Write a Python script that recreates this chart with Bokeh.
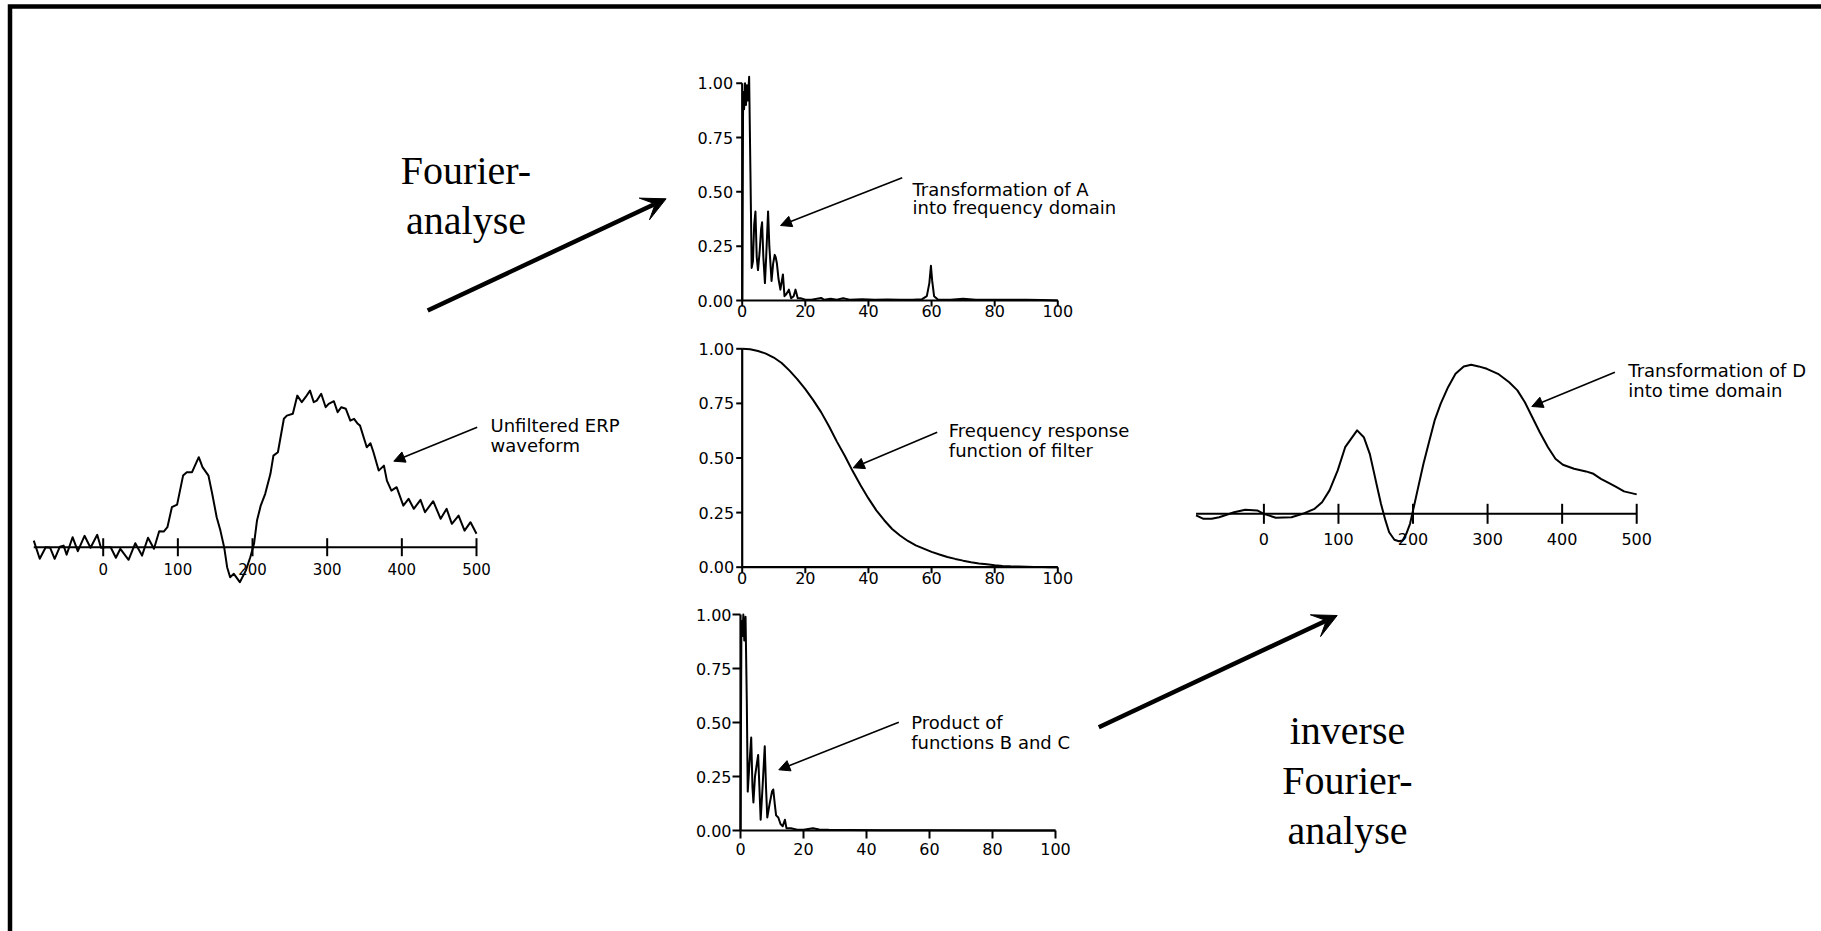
from bokeh.plotting import figure
from bokeh.models import Range1d, Arrow, NormalHead, VeeHead
from bokeh.embed import file_html
from bokeh.resources import INLINE
from bokeh.core.properties import value

W, H = 1821, 931
INK = "black"
SANS = value("DejaVu Sans")
SERIF = value("Liberation Serif")

# ---------------------------------------------------------------- data
# A: unfiltered ERP (ms, microvolts)
erp_ms = [-93, -85, -77, -71, -65, -58, -53, -49, -41, -34,
          -25, -17, -8, -3, 4, 10, 17, 23, 34, 43,
          52, 60, 68, 75, 81, 86, 92, 99, 107, 112,
          119, 128, 133, 141, 146, 152, 157, 162, 166, 170,
          175, 183, 191, 197, 202, 206, 211, 217, 224, 228,
          234, 242, 246, 254, 260, 266, 271, 277, 282, 286,
          292, 298, 302, 309, 314, 319, 325, 331, 336, 341,
          344, 353, 358, 362, 369, 376, 380, 386, 393, 402,
          409, 416, 425, 431, 442, 452, 460, 467, 476, 484,
          492, 500]
erp_uv = [0.33, -0.58, 0.0, -0.03, -0.58, 0.03, 0.08, -0.37, 0.5, -0.2,
          0.57, -0.03, 0.62, -0.03, 0.0, 0.0, -0.53, -0.08, -0.63, 0.2,
          -0.42, 0.47, -0.08, 0.8, 0.78, 1.0, 2.0, 2.13, 3.58, 3.75,
          3.75, 4.5, 4.0, 3.58, 2.67, 1.5, 0.83, 0.0, -1.0, -1.5,
          -1.33, -1.75, -1.17, -0.5, 0.17, 1.33, 2.08, 2.67, 3.67, 4.58,
          4.75, 6.42, 6.58, 6.67, 7.58, 7.25, 7.5, 7.83, 7.25, 7.33,
          7.67, 7.0, 7.17, 7.3, 6.75, 7.0, 6.92, 6.33, 6.42, 6.17,
          6.08, 5.0, 5.2, 4.75, 3.83, 4.08, 3.33, 2.83, 3.0, 2.08,
          2.42, 1.92, 2.37, 1.75, 2.3, 1.42, 1.92, 1.17, 1.58, 0.83,
          1.25, 0.67]

# B: amplitude spectrum of A (Hz, relative amplitude)
spec_hz = [0, 0.3, 0.6, 0.9, 1.2, 1.5, 1.8, 2.2, 2.6, 3.0,
           3.4, 3.8, 4.2, 4.6, 5.0, 5.5, 6.0, 6.3, 6.7, 7.2,
           7.6, 8.2, 8.6, 9.3, 9.8, 10.3, 10.6, 11.0, 11.5, 12.1,
           12.9, 13.4, 14.0, 14.8, 15.5, 16.3, 16.9, 17.6, 18.5, 20,
           22, 25, 26, 28, 30, 32, 34, 38, 42, 46,
           50, 54, 57, 58.5, 59.3, 59.8, 60.2, 60.8, 62, 66,
           70, 74, 80, 85, 90, 95, 100]
spec_amp = [0.0, 0.96, 0.88, 1.0, 0.9, 0.99, 0.92, 1.03, 0.6, 0.15,
            0.18, 0.35, 0.41, 0.2, 0.14, 0.22, 0.33, 0.36, 0.2, 0.08,
            0.2, 0.41, 0.25, 0.09, 0.17, 0.21, 0.2, 0.17, 0.1, 0.05,
            0.12, 0.02, 0.03, 0.05, 0.01, 0.02, 0.05, 0.01, 0.01, 0.004,
            0.003, 0.012, 0.003, 0.008, 0.004, 0.01, 0.004, 0.006, 0.003, 0.005,
            0.003, 0.004, 0.006, 0.02, 0.08, 0.16, 0.09, 0.02, 0.005, 0.003,
            0.008, 0.003, 0.004, 0.003, 0.004, 0.002, 0.0]

# C: frequency response of the low-pass filter
gain_hz = [0, 2.5, 5, 7.5, 10, 12.5, 15, 17.5, 20, 22.5,
           25, 27.5, 30, 32.5, 35, 37.5, 40, 42.5, 45, 47.5,
           50, 52.5, 55, 57.5, 60, 62.5, 65, 67.5, 70, 72.5,
           75, 77.5, 80, 82.5, 85, 87.5, 90, 92.5, 95, 97.5, 100]
gain = [1.0, 0.998, 0.99, 0.978, 0.96, 0.935, 0.9, 0.86, 0.815, 0.765,
        0.71, 0.645, 0.575, 0.51, 0.44, 0.375, 0.315, 0.26, 0.215, 0.175,
        0.145, 0.12, 0.1, 0.085, 0.07, 0.058, 0.047, 0.038, 0.03, 0.023,
        0.017, 0.013, 0.009, 0.006, 0.004, 0.003, 0.002, 0.001, 0.0008, 0.0003, 0.0]

# D: product of B and C
prod_hz = [0, 0.3, 0.6, 0.9, 1.2, 1.6, 2.0, 2.3, 2.8, 3.4,
           3.8, 4.1, 4.6, 5.6, 6.0, 6.4, 7.0, 7.7, 8.1, 8.5,
           9.2, 10.0, 10.4, 10.9, 11.3, 12.0, 12.7, 13.4, 14.1, 14.6,
           16, 18, 20, 22, 23, 25, 28, 35, 45, 60, 100]
prod_amp = [0.0, 0.97, 0.9, 1.0, 0.88, 0.99, 0.6, 0.18, 0.3, 0.43,
            0.2, 0.13, 0.25, 0.35, 0.2, 0.05, 0.2, 0.39, 0.2, 0.06,
            0.12, 0.18, 0.19, 0.12, 0.07, 0.06, 0.03, 0.02, 0.05, 0.01,
            0.01, 0.004, 0.003, 0.008, 0.01, 0.005, 0.003, 0.002, 0.001, 0.001, 0.0]

# E: filtered ERP (inverse transform of D)
filt_ms = [-91, -81, -70, -60, -40, -25, -9, 0, 16, 37,
           52, 68, 78, 88, 99, 109, 125, 134, 142, 147,
           152, 157, 163, 168, 175, 181, 186, 191, 196, 201,
           206, 214, 222, 229, 237, 247, 257, 268, 278, 288,
           299, 314, 329, 340, 350, 360, 370, 381, 391, 401,
           416, 432, 442, 452, 463, 473, 483, 500]
filt_uv = [-0.08, -0.25, -0.25, -0.17, 0.08, 0.2, 0.17, 0.0, -0.2, -0.17,
           0.0, 0.25, 0.58, 1.17, 2.17, 3.33, 4.17, 3.83, 3.0, 2.17,
           1.33, 0.5, -0.33, -0.92, -1.3, -1.37, -1.33, -1.0, -0.5, 0.33,
           1.17, 2.5, 3.67, 4.67, 5.5, 6.33, 7.0, 7.37, 7.45, 7.37,
           7.25, 7.0, 6.58, 6.17, 5.58, 4.83, 4.08, 3.33, 2.75, 2.45,
           2.25, 2.12, 2.0, 1.75, 1.53, 1.33, 1.12, 0.97]

time_ticks = [0, 100, 200, 300, 400, 500]
time_tick_labels = ["0", "100", "200", "300", "400", "500"]
freq_ticks = [0, 20, 40, 60, 80, 100]
freq_tick_labels = ["0", "20", "40", "60", "80", "100"]
amp_ticks = [0, 0.25, 0.5, 0.75, 1.0]
amp_tick_labels = ["0.00", "0.25", "0.50", "0.75", "1.00"]

# ---------------------------------------------------------------- canvas
p = figure(width=W, height=H, x_range=Range1d(0, W), y_range=Range1d(H, 0),
           min_border=0, toolbar_location=None, output_backend="svg",
           x_axis_location=None, y_axis_location=None,
           outline_line_color=None, background_fill_color="white",
           border_fill_color="white")
p.grid.visible = False

# page frame (left and top rule)
p.line(x=[9.5, 9.5, W], y=[H, 6, 6], line_width=4.5, color=INK, line_join="miter")


def panel(name, xdom, xpix, ydom, ypix):
    """Create extra ranges so that xdom maps onto xpix and ydom onto ypix (pixels from top)."""
    kx = (xpix[1] - xpix[0]) / (xdom[1] - xdom[0])
    ky = (ypix[0] - ypix[1]) / (ydom[1] - ydom[0])
    p.extra_x_ranges[name] = Range1d(xdom[0] - xpix[0] / kx, xdom[1] + (W - xpix[1]) / kx)
    p.extra_y_ranges[name] = Range1d(ydom[0] - (H - ypix[0]) / ky, ydom[1] + ypix[1] / ky)
    return dict(x_range_name=name, y_range_name=name), kx, ky


def time_panel(name, t, v, x0_px, x500_px, zero_px, tick_half, label_dy, font):
    rn, kx, ky = panel(name, (0, 500), (x0_px, x500_px), (0, 1), (zero_px, zero_px - 20))
    p.segment(x0=[t[0]], y0=[0], x1=[500], y1=[0], line_width=2, color=INK, **rn)
    p.segment(x0=time_ticks, x1=time_ticks, y0=-tick_half / ky, y1=tick_half / ky,
              line_width=2, color=INK, **rn)
    p.line(t, v, line_width=2, color=INK, line_join="round", **rn)
    p.text(x=time_ticks, y=0, text=time_tick_labels, y_offset=label_dy,
           text_align="center", text_baseline="middle", text_font=SANS,
           text_font_size=font, text_color=INK, **rn)


def freq_panel(name, f, a, xpix, ypix, tick_len, xlab_dy, ylab_dx):
    rn, kx, ky = panel(name, (0, 100), xpix, (0, 1), ypix)
    p.line(f, a, line_width=2, color=INK, line_join="round", **rn)
    p.segment(x0=[0, 0], y0=[0, 0], x1=[100, 0], y1=[0, 1], line_width=2.2, color=INK, **rn)
    p.segment(x0=freq_ticks, x1=freq_ticks, y0=0, y1=-tick_len / ky,
              line_width=2, color=INK, **rn)
    p.segment(x0=0, x1=-tick_len / kx, y0=amp_ticks, y1=amp_ticks,
              line_width=2, color=INK, **rn)
    p.text(x=freq_ticks, y=0, text=freq_tick_labels, y_offset=xlab_dy,
           text_align="center", text_baseline="middle", text_font=SANS,
           text_font_size="16px", text_color=INK, **rn)
    p.text(x=0, y=amp_ticks, text=amp_tick_labels, x_offset=-ylab_dx,
           text_align="right", text_baseline="middle", text_font=SANS,
           text_font_size="16px", text_color=INK, **rn)


time_panel("erp", erp_ms, erp_uv, 102.7, 476.0, 546.7, 9, 22, "15px")
time_panel("filt", filt_ms, filt_uv, 1263.4, 1636.2, 513.3, 10, 25, "16px")
freq_panel("spec", spec_hz, spec_amp, (741.7, 1057.3), (300.0, 82.7), 6, 10, 9)
freq_panel("gain", gain_hz, gain, (741.7, 1057.3), (566.7, 348.3), 6, 11, 8)
freq_panel("prod", prod_hz, prod_amp, (740.0, 1055.0), (830.0, 614.0), 8, 18, 9)


def note(lines, x, y, dy, size="18px"):
    p.text(x=[x] * len(lines), y=[y + i * dy for i in range(len(lines))], text=lines,
           text_align="left", text_baseline="alphabetic", text_font=SANS,
           text_font_size=size, text_color=INK)


def pointer(xs, ys, xe, ye):
    p.add_layout(Arrow(end=NormalHead(size=11, fill_color=INK, line_color=INK, line_width=1),
                       x_start=xs, y_start=ys, x_end=xe, y_end=ye,
                       line_width=1.6, line_color=INK))


note(["Unfiltered ERP", "waveform"], 490, 425, 20)
pointer(476.7, 426.7, 393.3, 460.7)

note(["Transformation of A", "into frequency domain"], 912, 188.5, 18.5)
pointer(901.7, 177.3, 780.0, 225.0)

note(["Frequency response", "function of filter"], 948.3, 430, 19.5)
pointer(936.7, 431.7, 852.7, 467.3)

note(["Product of", "functions B and C"], 910.7, 721.5, 20)
pointer(898.3, 721.7, 778.3, 769.3)

note(["Transformation of D", "into time domain"], 1627.8, 369.5, 20)
pointer(1614.4, 371.7, 1531.3, 406.0)

# process labels and the big arrows
p.text(x=[465.5, 465.5], y=[170, 220], text=["Fourier-", "analyse"],
       text_align="center", text_baseline="alphabetic", text_font=SERIF,
       text_font_size="40px", text_color=INK)
p.text(x=[1347, 1347, 1347], y=[730, 780, 830], text=["inverse", "Fourier-", "analyse"],
       text_align="center", text_baseline="alphabetic", text_font=SERIF,
       text_font_size="40px", text_color=INK)

for xs, ys, xe, ye in [(427.2, 310.0, 665.6, 198.3), (1098.3, 726.7, 1336.7, 615.0)]:
    p.add_layout(Arrow(end=VeeHead(size=24, fill_color=INK, line_color=INK, line_width=1),
                       x_start=xs, y_start=ys, x_end=xe, y_end=ye,
                       line_width=4.5, line_color=INK))

open("out.html", "w").write(file_html(p, INLINE))
